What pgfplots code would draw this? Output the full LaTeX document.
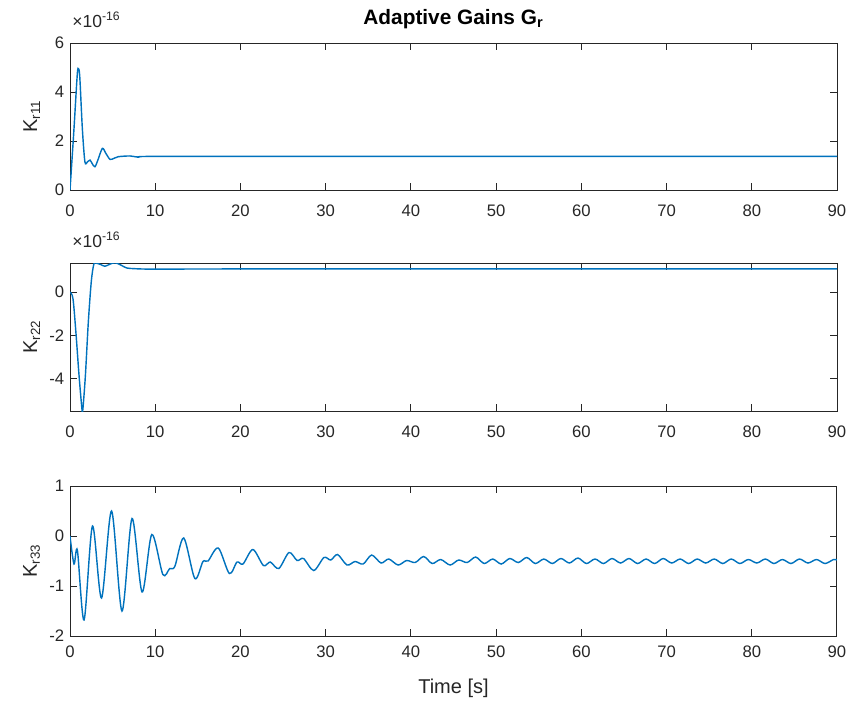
\documentclass[border=0pt]{standalone}
\usepackage{fontspec}
\setmainfont{Liberation Sans}
\usepackage{pgfplots}
\pgfplotsset{compat=1.18}
\definecolor{mblue}{rgb}{0,0.447,0.741}
\definecolor{axgray}{rgb}{0.15,0.15,0.15}
\pgfplotsset{
  mstyle/.style={
    scale only axis, width=460.2pt,
    xmin=0, xmax=90, xtick={0,10,...,90},
    axis line style={axgray, line width=0.6pt},
    tick style={axgray, line width=0.6pt},
    major tick length=4.2pt, tick align=inside,
    ticklabel style={font=\fontsize{10}{12}\selectfont, text=axgray},
    /pgf/number format/assume math mode=true,
    ylabel style={font=\fontsize{12}{14}\selectfont, text=axgray, at={(axis description cs:-0.05,0.5)}, anchor=center},
    xlabel style={font=\fontsize{12}{14}\selectfont, text=axgray},
    anchor=north west,
  },
  kline/.style={color=mblue, line width=0.85pt, smooth, mark=none},
}
\begin{document}
\begin{tikzpicture}
\useasboundingbox (0,0) rectangle (513pt,-421.2pt);
% ---------- K_r11 ----------
\begin{axis}[mstyle, name=ax1, at={(42pt,-25.8pt)}, height=88.2pt,
  ymin=0, ymax=6, ytick={0,2,4,6},
  xticklabel style={yshift=-5.5pt},
  ylabel={K\textsubscript{r11}},
  title={\textbf{Adaptive Gains G\textsubscript{r}}},
  title style={font=\fontsize{12.5}{14}\selectfont, text=black, yshift=-1pt}]
\addplot[kline] coordinates {
(0,0) (0.45,2.4) (0.85,4.7) (1.0,4.95) (1.15,4.6) (1.45,2.5) (1.75,1.15)
(2.05,1.15) (2.35,1.22) (2.6,1.08) (2.93,0.95) (3.3,1.25) (3.8,1.70)
(4.2,1.5) (4.7,1.25) (5.2,1.3) (5.67,1.36) (7.04,1.39) (8.0,1.34)
(9,1.37) (20,1.37) (90,1.37)};
\end{axis}
\node[anchor=base west, inner sep=0pt, text=axgray, font=\fontsize{10.5}{12}\selectfont] at ([xshift=1.2pt, yshift=9.6pt]ax1.north west) {×10\textsuperscript{-16}};
% ---------- K_r22 ----------
\begin{axis}[mstyle, name=ax2, at={(42pt,-157.8pt)}, height=88.8pt,
  ymin=-5.5, ymax=1.35, ytick={-4,-2,0},
  xticklabel style={yshift=-5.5pt},
  ylabel={K\textsubscript{r22}}]
\addplot[kline] coordinates {
(0,0) (0.35,-0.3) (0.7,-1.9) (1.05,-3.8) (1.4,-5.4) (1.5,-5.45)
(1.8,-3.9) (2.15,-1.38) (2.5,0.5) (2.8,1.3) (3.1,1.34) (3.6,1.28)
(4.1,1.2) (4.7,1.3) (5.3,1.36) (6.0,1.25) (6.65,1.12) (7.5,1.09)
(8.9,1.07) (12,1.07) (30,1.08) (90,1.08)};
\end{axis}
\node[anchor=base west, inner sep=0pt, text=axgray, font=\fontsize{10.5}{12}\selectfont] at ([xshift=1.2pt, yshift=9.6pt]ax2.north west) {×10\textsuperscript{-16}};
% ---------- K_r33 ----------
\begin{axis}[mstyle, name=ax3, at={(42pt,-291.6pt)}, height=90pt,
  ymin=-2, ymax=1, ytick={-2,-1,0,1},
  xticklabel style={yshift=-2.5pt},
  ylabel={K\textsubscript{r33}},
  xlabel={Time [s]},
  xlabel style={yshift=-6pt}]
\addplot[kline] coordinates {
(0,0) (0.47,-0.56) (0.87,-0.29) (1.65,-1.68) (2.64,0.20) (3.7,-1.24)
(4.88,0.50) (6.1,-1.50) (7.28,0.35) (8.46,-1.12) (9.6,0.03) (10.9,-0.77)
(11.7,-0.65) (12.3,-0.61) (13.35,-0.04) (14.65,-0.85) (15.6,-0.51)
(16.2,-0.50) (17.4,-0.24) (18.7,-0.75) (19.6,-0.52) (20.3,-0.56)
(21.46,-0.27) (22.7,-0.59) (23.5,-0.52) (24.5,-0.65) (25.7,-0.33)
(26.65,-0.49) (27.4,-0.45) (28.6,-0.69) (29.8,-0.43) (30.6,-0.48)
(31.4,-0.37) (32.5,-0.58) (33.45,-0.51) (34.4,-0.56) (35.4,-0.38)
(36.5,-0.54) (37.4,-0.46) (38.5,-0.58) (39.5,-0.49) (40.5,-0.53)
(41.5,-0.41) (42.5,-0.55) (43.5,-0.47) (44.6,-0.58) (45.6,-0.48)
(46.6,-0.53) (47.6,-0.42) (48.6,-0.55) (49.6,-0.46) (50.6,-0.56)
(51.6,-0.45) (52.6,-0.53) (53.6,-0.43) (54.6,-0.55) (55.6,-0.46)
(56.6,-0.55) (57.6,-0.45) (58.6,-0.54) (59.6,-0.44) (60.6,-0.55)
(61.6,-0.46) (62.6,-0.55) (63.6,-0.45) (64.6,-0.54) (65.6,-0.45)
(66.6,-0.55) (67.6,-0.46) (68.6,-0.55) (69.6,-0.45) (70.6,-0.54)
(71.6,-0.46) (72.6,-0.55) (73.6,-0.46) (74.6,-0.54) (75.6,-0.46)
(76.6,-0.55) (77.6,-0.46) (78.6,-0.55) (79.6,-0.47) (80.6,-0.54)
(81.6,-0.46) (82.6,-0.55) (83.6,-0.47) (84.6,-0.55) (85.6,-0.46)
(86.6,-0.54) (87.6,-0.47) (88.6,-0.55) (89.6,-0.47) (90,-0.48)};
\end{axis}
\end{tikzpicture}
\end{document}
